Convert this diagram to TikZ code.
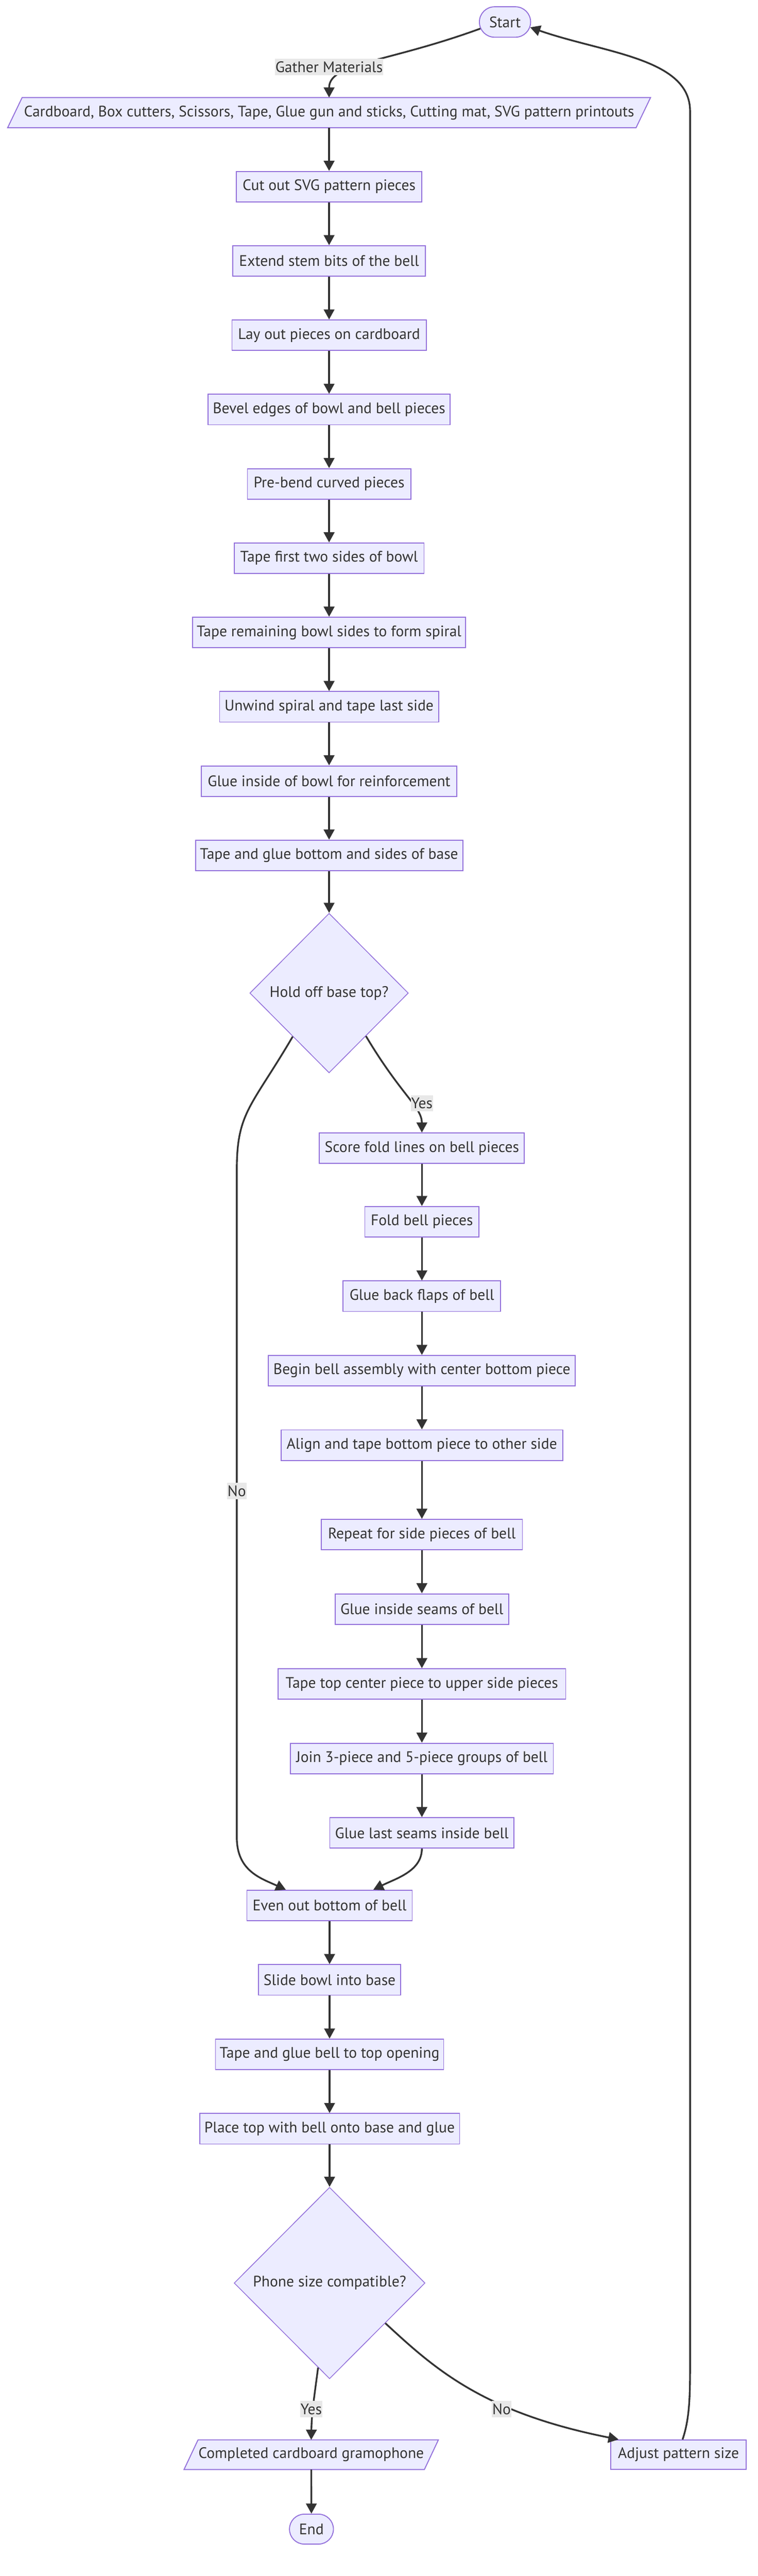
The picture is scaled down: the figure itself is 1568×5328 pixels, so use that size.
\documentclass[tikz,border=0pt]{standalone}
\usepackage{fontspec}
\setmainfont{PT Sans}
\usetikzlibrary{arrows.meta,shapes.geometric,shapes.misc,calc,backgrounds}
\definecolor{nodefill}{HTML}{ECECFF}
\definecolor{nodeborder}{HTML}{9370DB}
\definecolor{linec}{HTML}{333333}
\definecolor{labelbg}{HTML}{E8E8E8}
\begin{document}
\begin{tikzpicture}[x=1pt,y=-1pt,
  every node/.style={font=\fontsize{31.5}{36}\selectfont, text=linec},
  box/.style={rectangle, draw=nodeborder, fill=nodefill, line width=2pt, minimum height=63pt, inner sep=0pt},
  stadium/.style={rounded rectangle, draw=nodeborder, fill=nodefill, line width=2pt, minimum height=63pt, inner sep=0pt},
  decision/.style={diamond, draw=nodeborder, fill=nodefill, line width=1.6pt, inner sep=0pt},
  ptext/.style={inner sep=0pt},
  pshape/.style={draw=nodeborder, fill=nodefill, line width=2pt},
  lbl/.style={fill=labelbg, inner xsep=1pt, inner ysep=0pt, minimum height=34pt},
  arr/.style={draw=linec, line width=3.6pt, -{Triangle[length=21pt,width=22pt]}}
]
\begin{pgfonlayer}{background}
\fill[white] (0,0) rectangle (1568,5328);
\end{pgfonlayer}
\useasboundingbox (0,0) rectangle (1568,5328);

% start
\node[stadium, minimum width=106pt] (start) at (1045,45.5) {Start};
% materials parallelogram
\node[ptext, minimum width=1300pt, minimum height=62pt] (mat) at (681,233) {Cardboard, Box cutters, Scissors, Tape, Glue gun and sticks, Cutting mat, SVG pattern printouts};
\begin{pgfonlayer}{background}
\draw[pshape] ($(mat.south west)+(-15,0)$) -- ($(mat.south east)+(-15,0)$) -- ($(mat.north east)+(15,0)$) -- ($(mat.north west)+(15,0)$) -- cycle;
\end{pgfonlayer}

% main column
\node[box, minimum width=384pt] (cut) at (681,386) {Cut out SVG pattern pieces};
\node[box, minimum width=398pt] (ext) at (681,539.7) {Extend stem bits of the bell};
\node[box, minimum width=402pt] (lay) at (681,693.4) {Lay out pieces on cardboard};
\node[box, minimum width=501pt] (bev) at (681,847.1) {Bevel edges of bowl and bell pieces};
\node[box, minimum width=338pt] (pre) at (681,1000.8) {Pre-bend curved pieces};
\node[box, minimum width=393pt] (tf) at (681,1154.5) {Tape first two sides of bowl};
\node[box, minimum width=565pt] (tr) at (681,1308.2) {Tape remaining bowl sides to form spiral};
\node[box, minimum width=453pt] (unw) at (681,1461.9) {Unwind spiral and tape last side};
\node[box, minimum width=529pt] (gi) at (681,1615.6) {Glue inside of bowl for reinforcement};
\node[box, minimum width=553pt] (tg) at (681,1769.3) {Tape and glue bottom and sides of base};
\node[decision, minimum width=328pt, minimum height=330pt] (d1) at (681,2054) {Hold off base top?};

% bell column
\node[box, minimum width=424pt] (score) at (873,2375) {Score fold lines on bell pieces};
\node[box, minimum width=236pt] (fold) at (873,2527) {Fold bell pieces};
\node[box, minimum width=326pt] (gb) at (873,2681) {Glue back flaps of bell};
\node[box, minimum width=635pt] (begin) at (873,2835) {Begin bell assembly with center bottom piece};
\node[box, minimum width=583pt] (align) at (873,2989) {Align and tape bottom piece to other side};
\node[box, minimum width=416pt] (rep) at (873,3174) {Repeat for side pieces of bell};
\node[box, minimum width=359pt] (gis) at (873,3328) {Glue inside seams of bell};
\node[box, minimum width=595pt] (ttc) at (873,3483) {Tape top center piece to upper side pieces};
\node[box, minimum width=544pt] (join) at (873,3637) {Join 3-piece and 5-piece groups of bell};
\node[box, minimum width=381pt] (gl) at (873,3791) {Glue last seams inside bell};

% lower column
\node[box, minimum width=342pt] (even) at (682,3941) {Even out bottom of bell};
\node[box, minimum width=294pt] (slide) at (682,4095) {Slide bowl into base};
\node[box, minimum width=472pt] (tgb) at (682,4249) {Tape and glue bell to top opening};
\node[box, minimum width=538pt] (place) at (682,4403) {Place top with bell onto base and glue};
\node[decision, minimum width=395pt, minimum height=396pt] (d2) at (682,4722) {Phone size compatible?};

\node[ptext, minimum width=497pt, minimum height=61pt] (done) at (644,5077) {Completed cardboard gramophone};
\begin{pgfonlayer}{background}
\draw[pshape] ($(done.south west)+(-14.5,0)$) -- ($(done.south east)+(-14.5,0)$) -- ($(done.north east)+(14.5,0)$) -- ($(done.north west)+(14.5,0)$) -- cycle;
\end{pgfonlayer}
\node[stadium, minimum width=91pt, minimum height=62pt] (endn) at (644.5,5231) {End};
\node[box, minimum width=280pt, minimum height=61pt] (adj) at (1404,5077) {Adjust pattern size};

% connectors
\draw[arr] (start.195) .. controls (800,130) and (681,130) .. (mat.north);
\draw[arr] (mat) -- (cut);
\draw[arr] (cut) -- (ext);
\draw[arr] (ext) -- (lay);
\draw[arr] (lay) -- (bev);
\draw[arr] (bev) -- (pre);
\draw[arr] (pre) -- (tf);
\draw[arr] (tf) -- (tr);
\draw[arr] (tr) -- (unw);
\draw[arr] (unw) -- (gi);
\draw[arr] (gi) -- (tg);
\draw[arr] (tg) -- (d1);

\coordinate (d1r) at ($(d1.south)!0.463!(d1.east)$);
\coordinate (d1l) at ($(d1.west)!0.543!(d1.south)$);
\draw[arr] (d1r) .. controls (830,2265) and (873,2290) .. (score.north);
\draw[arr] (score) -- (fold);
\draw[arr] (fold) -- (gb);
\draw[arr] (gb) -- (begin);
\draw[arr] (begin) -- (align);
\draw[arr] (align) -- (rep);
\draw[arr] (rep) -- (gis);
\draw[arr] (gis) -- (ttc);
\draw[arr] (ttc) -- (join);
\draw[arr] (join) -- (gl);
\draw[arr] (gl.south) .. controls (873,3870) and (820,3885) .. ($(even.north west)!0.763!(even.north east)$);
\draw[arr] (d1l) .. controls (520,2290) and (490,2300) .. (490,2420) -- (490,3800) .. controls (490,3870) and (540,3885) .. ($(even.north west)!0.237!(even.north east)$);

\draw[arr] (even) -- (slide);
\draw[arr] (slide) -- (tgb);
\draw[arr] (tgb) -- (place);
\draw[arr] (place) -- (d2);

\coordinate (d2l) at ($(d2.south)!0.12!(d2.west)$);
\coordinate (d2r) at ($(d2.east)!0.418!(d2.south)$);
\draw[arr] (d2l) .. controls (650,4960) and (645,4990) .. (done.north);
\draw[arr] (d2r) .. controls (900,4900) and (1000,4990) .. ($(adj.north west)!0.06!(adj.north east)$);
\draw[arr] (done) -- (endn);
\draw[arr] ($(adj.north west)!0.53!(adj.north east)$) .. controls (1428,5000) and (1428,4950) .. (1428,4880) -- (1428,230) .. controls (1428,120) and (1250,110) .. (start.-12);

% edge labels
\node[lbl] (lgather) at (681,139) {Gather Materials};
\node[lbl] (lyes1) at (873,2282) {Yes};
\node[lbl] (lno1) at (490,3084) {No};
\node[lbl] (lyes2) at (644,4983) {Yes};
\node[lbl] (lno2) at (1038,4983) {No};
\end{tikzpicture}
\end{document}
